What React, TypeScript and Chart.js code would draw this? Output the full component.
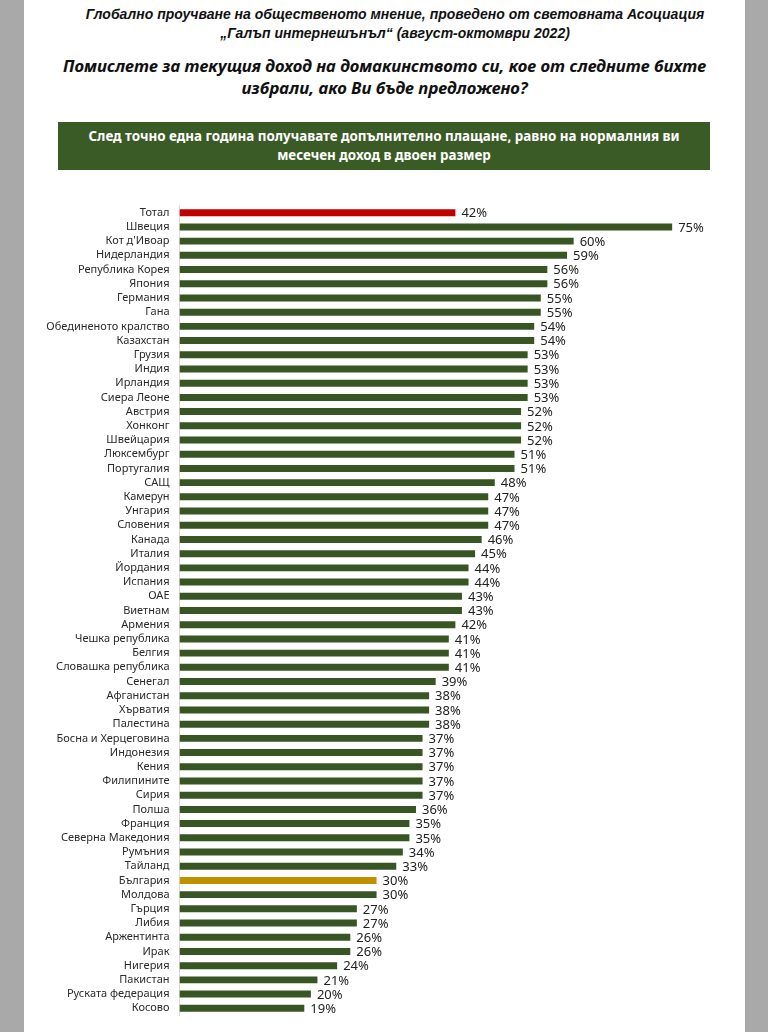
import React, { useEffect, useRef } from "react";
import { Chart, registerables } from "chart.js";

Chart.register(...registerables);

const countries: string[] = [
  "Тотал", "Швеция", "Кот д'Ивоар", "Нидерландия", "Република Корея", "Япония", "Германия", "Гана",
  "Обединеното кралство", "Казахстан", "Грузия", "Индия", "Ирландия", "Сиера Леоне", "Австрия",
  "Хонконг", "Швейцария", "Люксембург", "Португалия", "САЩ", "Камерун", "Унгария", "Словения",
  "Канада", "Италия", "Йордания", "Испания", "ОАЕ", "Виетнам", "Армения", "Чешка република",
  "Белгия", "Словашка република", "Сенегал", "Афганистан", "Хърватия", "Палестина",
  "Босна и Херцеговина", "Индонезия", "Кения", "Филипините", "Сирия", "Полша", "Франция",
  "Северна Македония", "Румъния", "Тайланд", "България", "Молдова", "Гърция", "Либия",
  "Аржентинта", "Ирак", "Нигерия", "Пакистан", "Руската федерация", "Косово",
];

const values: number[] = [
  42, 75, 60, 59, 56, 56, 55, 55, 54, 54, 53, 53, 53, 53, 52, 52, 52, 51, 51, 48, 47, 47, 47,
  46, 45, 44, 44, 43, 43, 42, 41, 41, 41, 39, 38, 38, 38, 37, 37, 37, 37, 37, 36, 35, 35, 34,
  33, 30, 30, 27, 27, 26, 26, 24, 21, 20, 19,
];

const highlightTotal = "Тотал";
const highlightBulgaria = "България";

const GREEN = "#375623";
const RED = "#c00000";
const GOLD = "#bf9000";

const valueLabels = {
  id: "valueLabels",
  afterDatasetsDraw(chart: any) {
    const ctx = chart.ctx;
    const meta = chart.getDatasetMeta(0);
    ctx.save();
    ctx.font = "13px 'Noto Sans'";
    ctx.fillStyle = "#222";
    ctx.textBaseline = "middle";
    ctx.textAlign = "left";
    meta.data.forEach((bar: any, i: number) => {
      const v = chart.data.datasets[0].data[i];
      ctx.fillText(v + "%", bar.x + 6, bar.y + 1);
    });
    ctx.restore();
  },
};

export default function App() {
  const ref = useRef<HTMLCanvasElement | null>(null);

  useEffect(() => {
    document.body.style.margin = "0";
    if (!ref.current) return;
    const colors = countries.map((c) =>
      c === highlightTotal ? RED : c === highlightBulgaria ? GOLD : GREEN
    );
    const chart = new Chart(ref.current, {
      type: "bar",
      data: {
        labels: countries,
        datasets: [
          {
            data: values,
            backgroundColor: colors,
            barPercentage: 0.49,
            categoryPercentage: 1,
          },
        ],
      },
      options: {
        indexAxis: "y",
        animation: false,
        responsive: false,
        maintainAspectRatio: false,
        layout: { padding: { left: 0, top: 3, bottom: 16, right: 40 } },
        plugins: { legend: { display: false }, tooltip: { enabled: false } },
        scales: {
          x: { display: false, min: 0, max: 80 },
          y: {
            grid: { display: false, drawTicks: false },
            border: { display: true, color: "#d9d9d9", width: 1 },
            ticks: {
              padding: 10,
              color: "#2a2a2a",
              font: { family: "'Noto Sans'", size: 11 },
              autoSkip: false,
            },
            afterFit: (s: any) => {
              s.width = 155.5;
            },
          },
        },
      },
      plugins: [valueLabels],
    });
    return () => chart.destroy();
  }, []);

  return (
    <div
      style={{
        position: "fixed",
        left: 0,
        top: 0,
        width: 768,
        height: 1032,
        background: "#a9a9a9",
        overflow: "hidden",
      }}
    >
      <div
        style={{
          position: "absolute",
          left: 24,
          top: 0,
          width: 721,
          height: 1032,
          background: "#ffffff",
        }}
      />
      <div
        style={{
          position: "absolute",
          left: 24,
          top: 5,
          width: 742,
          textAlign: "center",
          fontFamily: "'Liberation Sans Narrow', 'Liberation Sans'",
          fontWeight: "bold",
          fontStyle: "italic",
          fontSize: 14,
          lineHeight: "19px",
          color: "#111",
        }}
      >
        Глобално проучване на общественото мнение, проведено от световната Асоциация
        <br />
        „Галъп интернешънъл“ (август-октомври 2022)
      </div>
      <div
        style={{
          position: "absolute",
          left: 24,
          top: 55,
          width: 721,
          textAlign: "center",
          fontFamily: "'Noto Sans'",
          fontWeight: "bold",
          fontStyle: "italic",
          fontSize: 16.8,
          lineHeight: "22px",
          color: "#111",
        }}
      >
        Помислете за текущия доход на домакинството си, кое от следните бихте
        <br />
        избрали, ако Ви бъде предложено?
      </div>
      <div
        style={{
          position: "absolute",
          left: 58,
          top: 122,
          width: 652,
          height: 48,
          background: "#3b5b26",
          color: "#ffffff",
          textAlign: "center",
          fontFamily: "'Noto Sans'",
          fontWeight: "bold",
          fontSize: 13.4,
          lineHeight: "19px",
          display: "flex",
          alignItems: "center",
          justifyContent: "center",
        }}
      >
        <div>
          След точно една година получавате допълнително плащане, равно на нормалния ви
          <br />
          месечен доход в двоен размер
        </div>
      </div>
      <canvas
        ref={ref}
        width={721}
        height={843}
        style={{ position: "absolute", left: 24, top: 189, width: 721, height: 843 }}
      />
    </div>
  );
}
